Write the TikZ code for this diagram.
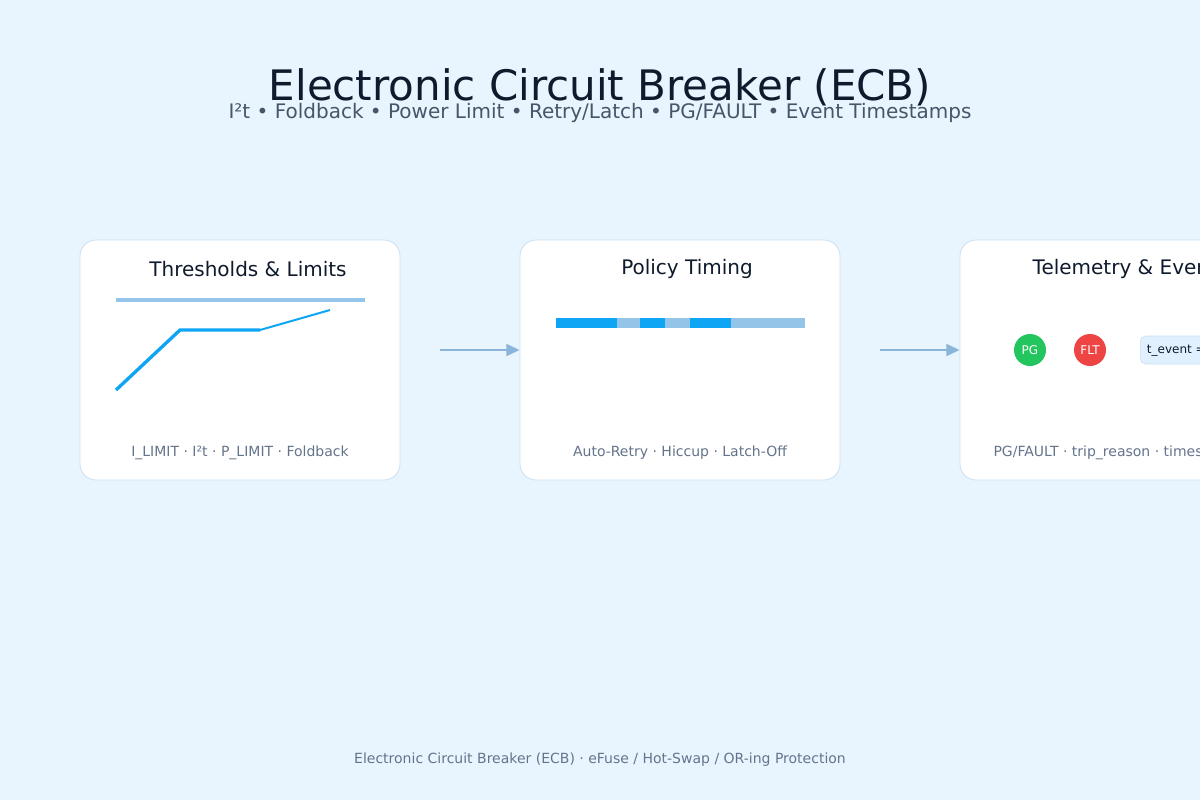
\documentclass[tikz,border=0pt]{standalone}
\usepackage{fontspec}
\setmainfont{DejaVu Sans}
\usetikzlibrary{arrows.meta}
\definecolor{bg}{HTML}{E9F5FE}
\definecolor{ink}{HTML}{0F1B2D}
\definecolor{sub}{HTML}{475569}
\definecolor{muted}{HTML}{64748B}
\definecolor{edge}{HTML}{C9E0F2}
\definecolor{hot}{HTML}{0EA5F5}
\definecolor{soft}{HTML}{94C4E8}
\definecolor{arr}{HTML}{8AB4DA}
\tikzset{
  panel/.style={draw=edge, fill=white, rounded corners=12pt, line width=0.6pt},
  ptitle/.style={text=ink, font=\fontsize{15}{18}\selectfont},
  pnote/.style={text=muted, font=\fontsize{10.5}{12}\selectfont},
  flow/.style={draw=arr, line width=1.7pt, -{Triangle[length=10pt,width=9pt]}, shorten <=30pt},
  lamp/.style={circle, minimum size=24pt, inner sep=0pt, text=white, font=\fontsize{9}{10}\selectfont},
}
\begin{document}
\begin{tikzpicture}[x=0.75pt,y=-0.75pt]
\useasboundingbox (0,0) rectangle (1200,800);
\clip (0,0) rectangle (1200,800);
\fill[bg] (0,0) rectangle (1200,800);

\node[text=ink, font=\fontsize{31.5}{36}\selectfont] (title) at (600,87) {Electronic Circuit Breaker (ECB)};
\node[text=sub, font=\fontsize{15}{18}\selectfont] (subtitle) at (600,113) {I²t • Foldback • Power Limit • Retry/Latch • PG/FAULT • Event Timestamps};

% panels
\node[panel, minimum width=240pt, minimum height=180pt] (limits) at (240,360) {};
\node[panel, minimum width=240pt, minimum height=180pt] (policy) at (680,360) {};
\node[panel, minimum width=240pt, minimum height=180pt] (telemetry) at (1120,360) {};

\node[ptitle] (limitsT) at (248,269) {Thresholds \& Limits};
\node[ptitle] (policyT) at (687,269) {Policy Timing};
\node[ptitle] (telemetryT) at (1130,269) {Telemetry \& Events};

% limits curve
\draw[soft, line width=2.6pt] (116,300) -- (365,300);
\draw[hot, line width=2.5pt] (116,390) -- (180,330) -- (260,330);
\draw[hot, line width=1.5pt] (260,330) -- (330,310);

% timing bar
\foreach \a/\b/\c in {556/617/hot, 617/640/soft, 640/665/hot, 665/690/soft, 690/731/hot, 731/805/soft}
  \fill[\c] (\a,318) rectangle (\b,328);

% telemetry
\node[lamp, fill={rgb,255:red,34;green,197;blue,94}] (pg) at (1030,350) {PG};
\node[lamp, fill={rgb,255:red,239;green,68;blue,68}] (flt) at (1090,350) {FLT};
\node[draw=edge, fill={rgb,255:red,224;green,240;blue,254}, rounded corners=4pt, anchor=west,
  minimum height=21pt, inner xsep=5pt, font=\fontsize{9}{10}\selectfont, text=ink] (tev) at (1140,350) {t\_event = 0.000 ms};

\node[pnote] (limitsN) at (240,453) {I\_LIMIT · I²t · P\_LIMIT · Foldback};
\node[pnote] (policyN) at (680,453) {Auto-Retry · Hiccup · Latch-Off};
\node[pnote] (telemetryN) at (1120,453) {PG/FAULT · trip\_reason · timestamps};

% flow
\draw[flow] ([yshift=7.5pt]limits.east) -- ([yshift=7.5pt]policy.west);
\draw[flow] ([yshift=7.5pt]policy.east) -- ([yshift=7.5pt]telemetry.west);

\node[text=muted, font=\fontsize{10.5}{12}\selectfont] (footer) at (600,760) {Electronic Circuit Breaker (ECB) · eFuse / Hot-Swap / OR-ing Protection};
\end{tikzpicture}
\end{document}
